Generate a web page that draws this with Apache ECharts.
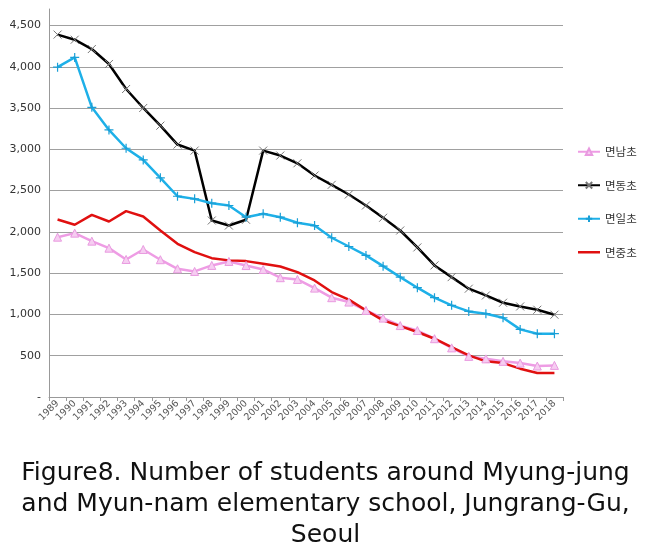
<!DOCTYPE html>
<html>
<head>
<meta charset="utf-8">
<script src="https://cdn.jsdelivr.net/npm/echarts@6/dist/echarts.min.js"></script>
<style>
html,body{margin:0;padding:0;background:#fff;}
#chart{width:651px;height:558px;}
</style>
</head>
<body>
<div id="chart"></div>
<script>
var years = ['1989','1990','1991','1992','1993','1994','1995','1996','1997','1998','1999','2000','2001','2002','2003','2004','2005','2006','2007','2008','2009','2010','2011','2012','2013','2014','2015','2016','2017','2018'];
var seriesNames = ['면남초','면동초','면일초','면중초'];
var myunnam  = [1936,1985,1888,1803,1666,1787,1663,1553,1521,1594,1642,1592,1545,1445,1424,1319,1203,1150,1049,956,865,805,706,595,492,462,432,411,375,383];
var myundong = [4390,4328,4215,4034,3731,3501,3287,3058,2985,2138,2077,2147,2985,2925,2831,2683,2570,2453,2320,2171,2017,1812,1594,1452,1312,1230,1142,1097,1057,997];
var myunil   = [3995,4114,3509,3235,3013,2872,2655,2432,2400,2348,2320,2178,2219,2178,2110,2077,1929,1823,1715,1585,1452,1324,1203,1110,1037,1009,960,819,767,767];
var myunjung = [2150,2086,2207,2126,2251,2186,2017,1856,1755,1682,1655,1646,1614,1581,1513,1412,1271,1179,1049,928,858,787,706,605,505,432,411,343,291,291];
var titleText = 'Figure8. Number of students around Myung-jung\nand Myun-nam elementary school, Jungrang-Gu,\nSeoul';

var crossX = 'path://M0,0 L10,10 M10,0 L0,10';
var crossPlus = 'path://M5,0 L5,10 M0,5 L10,5';
var lineOnlyIcon = 'path://M0,0 L0.01,0 L0.01,0.01 Z M0,8 L0.01,8 L0.01,7.99 Z M0,2.7 L22,2.7 L22,5.3 L0,5.3 Z';

var chart = echarts.init(document.getElementById('chart'));
chart.setOption({
  animation: false,
  backgroundColor: '#fff',
  title: {
    text: titleText,
    left: 'center',
    top: 453,
    textStyle: {fontFamily: 'DejaVu Sans, sans-serif', fontSize: 25, fontWeight: 'normal', color: '#111', lineHeight: 31}
  },
  legend: {
    orient: 'vertical',
    left: 577,
    top: 146,
    padding: 0,
    itemGap: 22,
    itemWidth: 22,
    itemHeight: 8,
    textStyle: {fontSize: 11.5, color: '#333', fontFamily: 'Noto Sans CJK KR'},
    data: [
      {name: seriesNames[0]},
      {name: seriesNames[1]},
      {name: seriesNames[2]},
      {name: seriesNames[3], icon: lineOnlyIcon, itemStyle: {color: '#e01010', borderWidth: 0}}
    ]
  },
  grid: {left: 49, right: 88, top: 9, bottom: 161, containLabel: false},
  xAxis: {
    type: 'category',
    data: years,
    boundaryGap: true,
    axisLine: {lineStyle: {color: '#999', width: 1}},
    axisTick: {show: true, length: 4, lineStyle: {color: '#999'}},
    axisLabel: {rotate: 45, interval: 0, fontSize: 9.5, color: '#555', margin: 5, fontFamily: 'DejaVu Sans'}
  },
  yAxis: {
    type: 'value',
    min: 0,
    max: 4700,
    interval: 500,
    axisLine: {show: true, lineStyle: {color: '#999', width: 1}},
    axisTick: {show: false},
    splitLine: {show: true, showMaxLine: false, showMinLine: false, lineStyle: {color: '#a0a0a0', width: 1}},
    axisLabel: {
      showMaxLabel: false,
      fontSize: 11, color: '#333', margin: 8, fontFamily: 'DejaVu Sans',
      formatter: function (v) { return v === 0 ? '-' : v.toLocaleString('en-US'); }
    }
  },
  series: [
    {
      name: seriesNames[0], type: 'line', data: myunnam,
      symbol: 'triangle', symbolSize: 8, showAllSymbol: true,
      color: '#ee9ce4',
      lineStyle: {color: '#ee9ce4', width: 2.5},
      itemStyle: {color: '#f6cdf1', borderColor: '#e99ae0', borderWidth: 1}
    },
    {
      name: seriesNames[1], type: 'line', data: myundong,
      symbol: crossX, symbolSize: 8, showAllSymbol: true,
      color: '#000',
      lineStyle: {color: '#000', width: 2.5},
      itemStyle: {color: 'none', borderColor: '#777', borderWidth: 1}
    },
    {
      name: seriesNames[2], type: 'line', data: myunil,
      symbol: crossPlus, symbolSize: 9, showAllSymbol: true,
      color: '#1eb0e8',
      lineStyle: {color: '#1eb0e8', width: 2.5},
      itemStyle: {color: 'none', borderColor: '#1a9fd6', borderWidth: 1.2}
    },
    {
      name: seriesNames[3], type: 'line', data: myunjung,
      symbol: 'none', showSymbol: false,
      color: '#e01010',
      lineStyle: {color: '#e01010', width: 2.5}
    }
  ]
});
</script>
</body>
</html>
